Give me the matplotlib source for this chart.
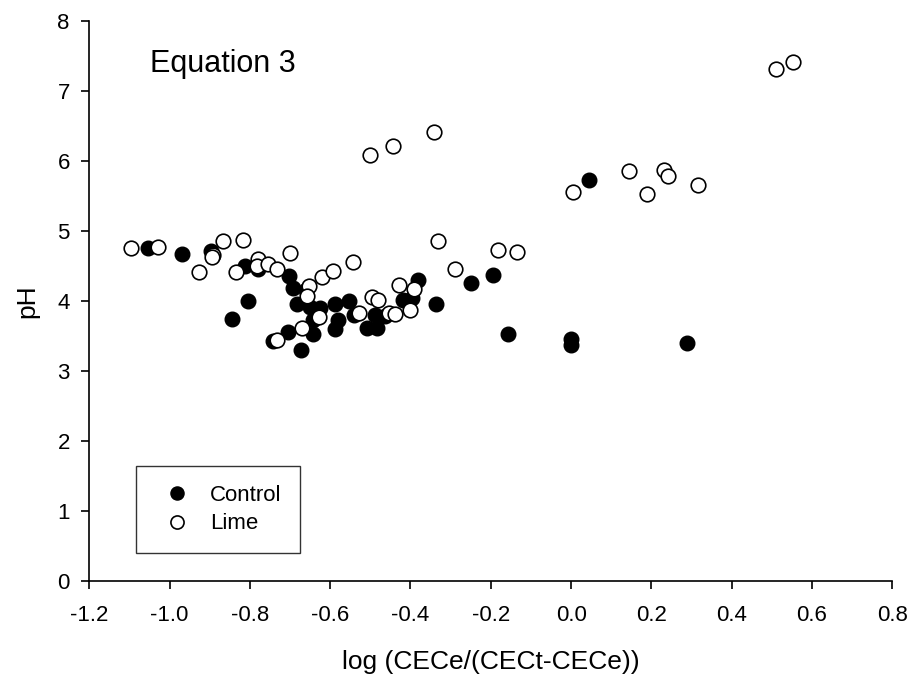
import matplotlib.pyplot as plt

plt.rcParams['font.family'] = ['Liberation Sans', 'DejaVu Sans']

# Control series (filled markers)
control_x = [-1.053, -0.968, -0.897, -0.812, -0.804, -0.844, -0.781, -0.702,
             -0.692, -0.683, -0.659, -0.650, -0.625, -0.642, -0.642, -0.704,
             -0.742, -0.673, -0.588, -0.553, -0.580, -0.588, -0.540, -0.509,
             -0.483, -0.488, -0.464, -0.418, -0.397, -0.381, -0.337, -0.249,
             -0.195, -0.156, 0.0, 0.0, 0.289, 0.045]
control_ph = [4.75, 4.67, 4.71, 4.50, 3.99, 3.74, 4.45, 4.36,
              4.18, 3.96, 4.15, 3.91, 3.90, 3.72, 3.53, 3.56,
              3.42, 3.30, 3.96, 4.00, 3.72, 3.59, 3.80, 3.61,
              3.61, 3.80, 3.78, 4.01, 4.04, 4.29, 3.96, 4.25,
              4.37, 3.52, 3.46, 3.37, 3.40, 5.73]

# Lime series (open markers)
lime_x = [-1.096, -1.030, -0.927, -0.893, -0.895, -0.868, -0.816, -0.835,
          -0.779, -0.782, -0.756, -0.732, -0.700, -0.652, -0.621, -0.592,
          -0.542, -0.657, -0.628, -0.671, -0.732, -0.529, -0.497, -0.480,
          -0.453, -0.439, -0.428, -0.391, -0.401, -0.331, -0.290, -0.181,
          -0.134, -0.501, -0.443, -0.342, 0.004, 0.145, 0.188, 0.231,
          0.241, 0.315, 0.510, 0.552]
lime_ph = [4.76, 4.77, 4.41, 4.66, 4.63, 4.85, 4.87, 4.41,
           4.60, 4.49, 4.53, 4.46, 4.68, 4.21, 4.34, 4.42,
           4.56, 4.07, 3.77, 3.61, 3.44, 3.82, 4.05, 4.01,
           3.82, 3.81, 4.22, 4.17, 3.87, 4.85, 4.45, 4.72,
           4.70, 6.08, 6.21, 6.41, 5.56, 5.85, 5.53, 5.87,
           5.78, 5.65, 7.31, 7.41]

x_ticks = [-1.2, -1.0, -0.8, -0.6, -0.4, -0.2, 0.0, 0.2, 0.4, 0.6, 0.8]
y_ticks = [0, 1, 2, 3, 4, 5, 6, 7, 8]

fig = plt.figure(figsize=(9.13, 6.77), dpi=100)
ax = fig.add_axes([0.0978, 0.1422, 0.8795, 0.8272])

ax.plot(control_x, control_ph, 'o', color='black', markersize=10.5,
        markeredgecolor='black', markeredgewidth=1, label='Control')
ax.plot(lime_x, lime_ph, 'o', markerfacecolor='white', markersize=10.5,
        markeredgecolor='black', markeredgewidth=1.2, label='Lime')

ax.set_xlim(-1.2, 0.8)
ax.set_ylim(0, 8)
ax.set_xticks(x_ticks)
ax.set_xticklabels([f'{t:.1f}' for t in x_ticks])
ax.set_yticks(y_ticks)

for s in ['top', 'right']:
    ax.spines[s].set_visible(False)
for s in ['left', 'bottom']:
    ax.spines[s].set_linewidth(1.2)

ax.tick_params(direction='out', length=6, width=1.2, labelsize=16)
ax.tick_params(axis='x', pad=11.5)
ax.tick_params(axis='y', pad=8)

ax.set_xlabel('log (CECe/(CECt-CECe))', fontsize=19, labelpad=17)
ax.set_ylabel('pH', fontsize=19, labelpad=13)

ax.text(0.0756, 0.909, 'Equation 3', transform=ax.transAxes, fontsize=22,
        va='baseline', ha='left')

leg = ax.legend(loc='lower left', bbox_to_anchor=(0.0582, 0.049),
                frameon=True, fancybox=False, edgecolor='black',
                fontsize=16, borderpad=0.85, handletextpad=0.51,
                labelspacing=0.35, borderaxespad=0, handlelength=1.96,
                markerscale=0.9)
leg.get_frame().set_linewidth(1.0)

fig.savefig('out.png', dpi=100)
